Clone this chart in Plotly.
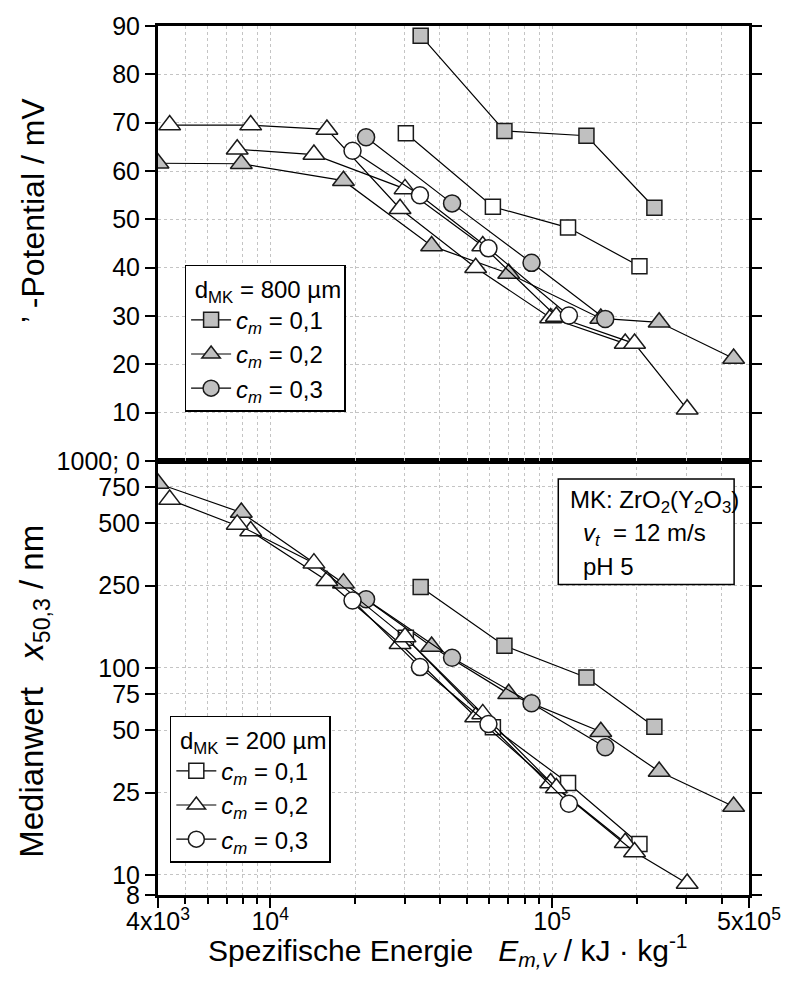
import plotly.graph_objects as go

# Specific energy E_m,V in kJ/kg for each series (shared by both panels)
sq800_E = [34200, 67800, 132500, 230800]
tri800_E = [4000, 7900, 18200, 37400, 70200, 149000, 240000, 441000]
circ800_E = [21900, 44200, 84600, 154500]
sq200_E = [30300, 61700, 114000, 204300]
triA200_E = [4400, 8530, 15900, 28900, 53600, 98900, 181900]
triB200_E = [7640, 14300, 30100, 56800, 103600, 196300, 301700]
circ200_E = [19600, 34000, 59500, 114800]

# Zeta potential in mV (upper panel)
sq800_zeta = [88, 68.3, 67.3, 52.4]
tri800_zeta = [61.6, 61.5, 58, 44.5, 38.8, 29.5, 28.7, 21.2]
circ800_zeta = [67, 53.3, 41, 29.4]
sq200_zeta = [67.8, 52.6, 48.3, 40.3]
triA200_zeta = [69.5, 69.5, 68.6, 52.2, 40, 29.6, 24.3]
triB200_zeta = [64.5, 63.4, 56.3, 44.5, 29.9, 24.3, 10.7]
circ200_zeta = [64.2, 55, 44, 30.1]

# Median size x50,3 in nm (lower panel)
sq800_x50 = [246, 128, 90, 52]
tri800_x50 = [779, 564, 257, 127, 75, 49.2, 31.6, 21.4]
circ800_x50 = [215, 112, 67.6, 41.4]
sq200_x50 = [140, 51.7, 27.8, 14.1]
triA200_x50 = [651, 459, 264, 131, 58, 27.8, 14.3]
triB200_x50 = [494, 321, 141, 60, 26.3, 12.9, 9.1]
circ200_x50 = [212, 101, 53.6, 22.1]

# Axis ticks
x_major = [4000, 1e4, 1e5, 5e5]
x_major_text = ["4x10<sup>3</sup>", "10<sup>4</sup>", "10<sup>5</sup>", "5x10<sup>5</sup>"]
x_minor = [5000, 6000, 7000, 8000, 9000,
           2e4, 3e4, 4e4, 5e4, 6e4, 7e4, 8e4, 9e4,
           2e5, 3e5, 4e5]
zeta_ticks = [10, 20, 30, 40, 50, 60, 70, 80, 90]
x50_ticks = [8, 10, 25, 50, 75, 100, 250, 500, 750, 1000]
x50_text = ["8", "10", "25", "50", "75", "100", "250", "500", "750", "1000; 0"]

FONT = "Liberation Sans, Arial, sans-serif"
GREY = "#c0c0c0"
EDGE = "#1a1a1a"
CM = "<i>c</i><sub><i>m</i></sub> = "

series = [
    # name, E, zeta, x50, symbol, fill, legend label, which legend
    ("sq800", sq800_E, sq800_zeta, sq800_x50, "square", GREY, CM + "0,1", "legend"),
    ("tri800", tri800_E, tri800_zeta, tri800_x50, "triangle-up", GREY, CM + "0,2", "legend"),
    ("circ800", circ800_E, circ800_zeta, circ800_x50, "circle", GREY, CM + "0,3", "legend"),
    ("sq200", sq200_E, sq200_zeta, sq200_x50, "square", "white", CM + "0,1", "legend2"),
    ("triA200", triA200_E, triA200_zeta, triA200_x50, "triangle-up", "white", CM + "0,2", "legend2"),
    ("triB200", triB200_E, triB200_zeta, triB200_x50, "triangle-up", "white", None, "legend2"),
    ("circ200", circ200_E, circ200_zeta, circ200_x50, "circle", "white", CM + "0,3", "legend2"),
]

SIZES = {"square": 15, "triangle-up": 19, "circle": 17}

fig = go.Figure()
for name, E, zeta, x50, sym, fill, label, leg in series:
    marker = dict(symbol=sym, size=SIZES[sym], color=fill,
                  line=dict(color=EDGE, width=1.5))
    line = dict(color="black", width=1.2)
    # upper panel: zeta potential
    fig.add_trace(go.Scatter(
        x=E, y=zeta, mode="lines+markers", marker=marker, line=line,
        xaxis="x2", yaxis="y2", name=label or name, legend="legend",
        showlegend=(leg == "legend" and label is not None)))
    # lower panel: median particle size
    fig.add_trace(go.Scatter(
        x=E, y=x50, mode="lines+markers", marker=marker, line=line,
        xaxis="x", yaxis="y", name=label or name, legend="legend2",
        showlegend=(leg == "legend2" and label is not None)))

GRID = dict(showgrid=True, gridcolor="#c4c4c4", griddash="dot", gridwidth=1)
SPLIT = 0.4994

LEGEND_STYLE = dict(
    xanchor="left", yanchor="top",
    bgcolor="white", bordercolor="black", borderwidth=1.5,
    font=dict(size=24, family=FONT), itemwidth=40,
    tracegroupgap=0)

fig.update_layout(
    width=793, height=998,
    margin=dict(l=158, r=40, t=22, b=103),
    paper_bgcolor="white", plot_bgcolor="white",
    font=dict(family=FONT, size=25, color="black"),
    xaxis=dict(
        type="log", range=[3.60206, 5.69897], domain=[0, 1], anchor="y",
        tickmode="array", tickvals=x_major, ticktext=x_major_text,
        ticks="outside", ticklen=10, tickwidth=2, tickcolor="black",
        ticklabelstandoff=-8,
        showline=True, linewidth=3, linecolor="black", mirror=True,
        minor=dict(tickmode="array", tickvals=x_minor, ticks="outside",
                   ticklen=6, tickwidth=2, tickcolor="black", **GRID),
        tickfont=dict(size=25), **GRID),
    xaxis2=dict(
        type="log", range=[3.60206, 5.69897], domain=[0, 1], anchor="y2",
        matches="x", showticklabels=False, ticks="",
        tickmode="array", tickvals=x_major,
        showline=True, linewidth=3, linecolor="black", mirror=True,
        minor=dict(tickmode="array", tickvals=x_minor, ticks="", **GRID),
        **GRID),
    yaxis=dict(
        type="log", range=[0.90309, 3.0], domain=[0, SPLIT], anchor="x",
        tickmode="array", tickvals=x50_ticks, ticktext=x50_text,
        ticks="outside", ticklen=10, tickwidth=2, tickcolor="black",
        showline=True, linewidth=3, linecolor="black", mirror="ticks",
        **GRID),
    yaxis2=dict(
        range=[0, 90], domain=[SPLIT, 1], anchor="x2",
        tickmode="array", tickvals=zeta_ticks,
        ticks="outside", ticklen=10, tickwidth=2, tickcolor="black",
        showline=True, linewidth=3, linecolor="black", mirror="ticks",
        zeroline=False, **GRID),
    legend=dict(
        x=0.045, y=0.725,
        title=dict(text="\u00a0d<sub>MK</sub> = 800 µm", side="top",
                   font=dict(size=24, family=FONT)),
        **LEGEND_STYLE),
    legend2=dict(
        x=0.02, y=0.206,
        title=dict(text="\u00a0d<sub>MK</sub> = 200 µm", side="top",
                   font=dict(size=24, family=FONT)),
        **LEGEND_STYLE),
)

# material / process conditions box
fig.add_shape(type="rect", xref="paper", yref="paper",
              x0=0.6773, x1=0.9748, y0=0.3574, y1=0.4788,
              line=dict(color="black", width=1.5), fillcolor="white",
              layer="above")
info_lines = [
    ("MK: ZrO<sub>2</sub>(Y<sub>2</sub>O<sub>3</sub>)", 571, 500),
    ("<i>v</i><sub><i>t</i></sub>\u00a0 = 12 m/s", 584, 533),
    ("pH 5", 584, 565),
]
for txt, px, py in info_lines:
    fig.add_annotation(text=txt, xref="paper", yref="paper",
                       x=(px - 158) / 595, y=(895 - py) / 873,
                       xanchor="left", yanchor="middle", showarrow=False,
                       font=dict(size=24, family=FONT))

# axis titles
fig.add_annotation(text="\u2019 -Potential / mV", xref="paper", yref="paper",
                   x=(32 - 158) / 595, y=(895 - 207) / 873, textangle=-90,
                   xanchor="center", yanchor="middle", showarrow=False,
                   font=dict(size=32, family=FONT))
fig.add_annotation(text="Medianwert\u00a0\u00a0 <i>x</i><sub>50,3</sub> / nm",
                   xref="paper", yref="paper",
                   x=(33 - 158) / 595, y=(895 - 690) / 873, textangle=-90,
                   xanchor="center", yanchor="middle", showarrow=False,
                   font=dict(size=33, family=FONT))
fig.add_annotation(text="Spezifische Energie\u00a0\u00a0 <i>E</i><sub><i>m,V</i></sub> / kJ · kg<sup>-1</sup>",
                   xref="paper", yref="paper",
                   x=(450 - 158) / 595, y=(895 - 950) / 873,
                   xanchor="center", yanchor="middle", showarrow=False,
                   font=dict(size=30, family=FONT))

fig.write_html("out.html")
